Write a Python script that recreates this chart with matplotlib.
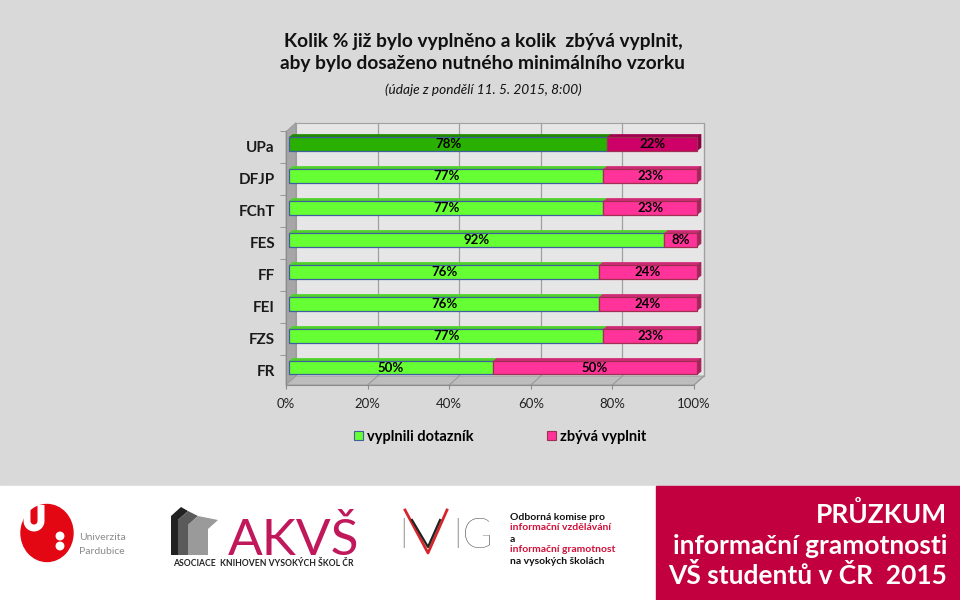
import matplotlib
matplotlib.use("Agg")
import matplotlib.pyplot as plt
import numpy as np
from matplotlib.patches import Rectangle, Polygon, Ellipse, Patch

plt.rcParams['font.family'] = ['Lato', 'DejaVu Sans']

# data
categories = ['UPa', 'DFJP', 'FChT', 'FES', 'FF', 'FEI', 'FZS', 'FR']
done = [78, 77, 77, 92, 76, 76, 77, 50]
left = [22, 23, 23, 8, 24, 24, 23, 50]
x_ticks = [0, 20, 40, 60, 80, 100]
legend_labels = ['vyplnili dotazník', 'zbývá vyplnit']

W, H = 960, 600
fig = plt.figure(figsize=(9.6, 6), dpi=100, facecolor='#d9d9d9')

# background / footer layer in pixel coords
bg = fig.add_axes([0, 0, 1, 1], zorder=0)
bg.set_xlim(0, W)
bg.set_ylim(H, 0)
bg.axis('off')
bg.add_patch(Rectangle((0, 486), 656, 114, color='white'))
bg.add_patch(Rectangle((656, 486), 304, 114, color='#c2003f'))

# chart axes = front plane of the 3d box
x0, x1, ytop, ybot = 286, 694, 131, 385
ax = fig.add_axes([x0 / W, 1 - ybot / H, (x1 - x0) / W, (ybot - ytop) / H], zorder=2)
n = len(categories)
ypos = np.arange(n)[::-1]
ax.set_xlim(0, 100)
ymin, ymax = -0.44, n - 1 + 0.48
ax.set_ylim(ymin, ymax)
ax.patch.set_alpha(0)

sx = 100 / (x1 - x0)
sy = (ymax - ymin) / (ybot - ytop)


def sh(x, y, dx, dy):
    # shift a data point by pixels (dx right, dy up)
    return (x + dx * sx, y + dy * sy)


wd = (10, 9)
# back wall
bw = [sh(0, ymin, *wd), sh(100, ymin, *wd), sh(100, ymax, *wd), sh(0, ymax, *wd)]
ax.add_patch(Polygon(bw, closed=True, fc='#e6e6e6', ec='#a0a0a0', lw=0.8, clip_on=False, zorder=0))
# left wall
ax.add_patch(Polygon([(0, ymin), sh(0, ymin, *wd), sh(0, ymax, *wd), (0, ymax)], closed=True,
                     fc='#a6a6a6', ec='#999999', lw=0.6, clip_on=False, zorder=0.5))
# floor
ax.add_patch(Polygon([(0, ymin), (100, ymin), sh(100, ymin, *wd), sh(0, ymin, *wd)], closed=True,
                     fc='#bdbdbd', ec='#999999', lw=0.6, clip_on=False, zorder=0.5))
for t in x_ticks[1:]:
    p, q = sh(t, ymin, *wd), sh(t, ymax, *wd)
    ax.plot([p[0], q[0]], [p[1], q[1]], color='#a0a0a0', lw=0.9, zorder=0.3, clip_on=False)
    ax.plot([t, p[0]], [ymin, p[1]], color='#999999', lw=0.8, zorder=0.6, clip_on=False)

# bars
bh = 0.41
off = (3, 3)
bd = (4, 3)
for i, cat in enumerate(categories):
    y = ypos[i]
    if cat == 'UPa':
        g = ('#29b000', '#1f8a00')
        p = ('#cc0066', '#a00050', '#8a0045')
    else:
        g = ('#66ff33', '#4fd129')
        p = ('#ff3399', '#d02a77', '#a8245e')
    segs = [(0, done[i], g, '#3f5f9f'), (done[i], left[i], p, '#a03050')]
    for j, (start, w, cols, ec) in enumerate(segs):
        b = ax.barh(y, w, left=start, height=bh, color=cols[0], edgecolor=ec, lw=0.9, zorder=3)[0]
        xa, ya = sh(start, y - bh / 2, *off)
        b.set_xy((xa, ya))
        b.set_clip_on(False)
        ytp = ya + bh
        top = [(xa, ytp), (xa + w, ytp), sh(xa + w, ytp, *bd), sh(xa, ytp, *bd)]
        ax.add_patch(Polygon(top, closed=True, fc=cols[1], ec=cols[1], lw=0.5, zorder=2.9, clip_on=False))
        if j == 1:
            side = [(xa + w, ya), sh(xa + w, ya, *bd), sh(xa + w, ytp, *bd), (xa + w, ytp)]
            ax.add_patch(Polygon(side, closed=True, fc=cols[2], ec=cols[2], lw=0.5, zorder=2.9, clip_on=False))
        ax.text(xa + w / 2, ya + bh / 2, f'{w}%', ha='center', va='center',
                fontsize=9.5, fontweight='bold', color='black', zorder=4)

# axes styling
for s in ['top', 'right']:
    ax.spines[s].set_visible(False)
ax.spines['left'].set_color('#8c8c8c')
ax.spines['bottom'].set_color('#8c8c8c')
ax.set_yticks(ypos)
ax.set_yticklabels(categories, fontsize=11, fontweight='bold', color='#1a1a1a')
ax.set_yticks(np.arange(n) + 0.5, minor=True)
ax.tick_params(axis='y', which='major', length=0, pad=8)
ax.tick_params(axis='y', which='minor', length=4, color='#8c8c8c')
ax.set_xticks(x_ticks)
ax.set_xticklabels([f'{t}%' for t in x_ticks], fontsize=9.5, color='#222222')
ax.tick_params(axis='x', length=3, color='#8c8c8c', pad=6)

# titles
fig.text(0.503, 1 - 41 / H, 'Kolik % již bylo vyplněno a kolik  zbývá vyplnit,', ha='center', va='center',
         fontsize=13.8, fontweight='bold', color='#111111')
fig.text(0.503, 1 - 63 / H, 'aby bylo dosaženo nutného minimálního vzorku', ha='center', va='center',
         fontsize=13.8, fontweight='bold', color='#111111')
fig.text(0.503, 1 - 90 / H, '(údaje z pondělí 11. 5. 2015, 8:00)', ha='center', va='center',
         fontsize=9.8, style='italic', color='#111111')

# legend
handles = [Patch(fc='#66ff33', ec='#3f5f9f', lw=0.8), Patch(fc='#ff3399', ec='#a03050', lw=0.8)]
fig.legend(handles, legend_labels, loc='center', bbox_to_anchor=(0.521, 1 - 437 / H), ncol=2,
           frameon=False, handlelength=0.6, handleheight=0.6, handletextpad=0.3, columnspacing=5.0,
           prop={'size': 10.5, 'weight': 'bold'})

# footer: Univerzita Pardubice
bg.add_patch(Ellipse((47, 533), 52, 57, color='#e30613'))
th = np.linspace(np.pi, 2 * np.pi, 30)
ux = np.concatenate([[27, 27], 34 + 7 * np.cos(th), [41, 41]])
uy = np.concatenate([[505, 521], 521 - 7 * np.sin(th), [521, 505]])
bg.plot(ux, uy, color='white', lw=5, solid_capstyle='butt')
bg.add_patch(Ellipse((60, 536), 7.5, 7.5, color='white'))
bg.add_patch(Ellipse((60, 546), 7.5, 7.5, color='white'))
bg.text(79, 538, 'Univerzita', fontsize=7.5, color='#8a8a8a', va='center')
bg.text(79, 551, 'Pardubice', fontsize=7.5, color='#8a8a8a', va='center')

# AKVŠ
bg.add_patch(Polygon([(171, 516), (181, 507), (188, 511), (178, 520), (178, 555), (171, 555)], fc='#222222'))
bg.add_patch(Polygon([(178, 520), (188, 511), (198, 516), (188, 525), (188, 555), (178, 555)], fc='#5a5a5a'))
bg.add_patch(Polygon([(188, 525), (198, 516), (218, 520), (208, 529), (208, 555), (188, 555)], fc='#9a9a9a'))
bg.text(228, 555, 'AKVŠ', fontsize=37, fontweight='normal', color='#c0185a', va='baseline', ha='left')
bg.text(173, 564, 'ASOCIACE  KNIHOVEN VYSOKÝCH ŠKOL ČR', fontsize=6.2, fontweight='bold',
        color='#222222', va='center', ha='left')

# IVIG
bg.text(398, 548, 'I', fontsize=30, fontweight='light', color='#222222', va='baseline')
bg.plot([405, 428, 447], [510, 553, 510], color='#d7262b', lw=2)
bg.plot([412, 428, 440], [520, 547, 520], color='#222222', lw=1.6)
bg.text(452, 548, 'IG', fontsize=30, fontweight='light', color='#222222', va='baseline')
ivig_lines = [('Odborná komise pro', '#111111', 518), ('informační vzdělávání', '#d0103a', 528),
              ('a', '#111111', 539), ('informační gramotnost', '#d0103a', 550),
              ('na vysokých školách', '#111111', 561)]
for txt, c, yy in ivig_lines:
    bg.text(510, yy, txt, fontsize=7.5, fontweight='bold', color=c, va='center')

# red box text
bg.text(947, 514, 'PRŮZKUM', fontsize=19, fontweight='bold', color='white', ha='right', va='center')
bg.text(947, 546, 'informační gramotnosti', fontsize=19, fontweight='bold', color='white', ha='right', va='center')
bg.text(947, 576, 'VŠ studentů v ČR  2015', fontsize=19, fontweight='bold', color='white', ha='right', va='center')

fig.savefig('out.png', dpi=100, facecolor=fig.get_facecolor())
